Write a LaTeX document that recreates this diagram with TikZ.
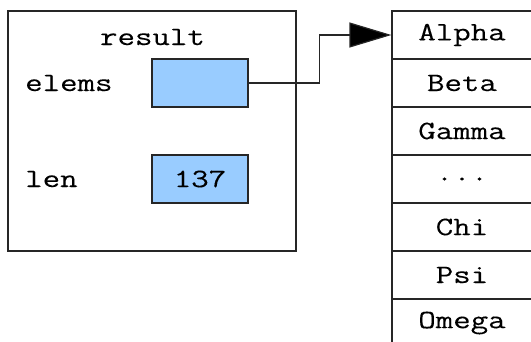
\documentclass[tikz,border=0pt]{standalone}
\usepackage{fontspec}
\setmonofont[FakeStretch=1.28,FakeBold=0.2]{Latin Modern Mono}
\usetikzlibrary{arrows.meta,positioning}
\definecolor{fieldblue}{RGB}{153,204,255}
\begin{document}
\begin{tikzpicture}[x=1pt, y=1pt, node distance=48pt,
    every node/.style={font=\ttfamily\fontsize{26.5}{30}\selectfont},
    boxline/.style={draw=black!85, line width=1.2pt, inner sep=0pt},
    field/.style={boxline, fill=fieldblue, minimum width=96pt, minimum height=48pt},
    cell/.style={boxline, minimum width=140pt, minimum height=48pt},
    fieldname/.style={inner sep=0pt, anchor=west}]
  \useasboundingbox (0,0) rectangle (531,341);
  \node(S) [boxline, minimum width=288pt, minimum height=240pt] at (152,210) {};
  \node(R) at (152.5,304) {result};
  \node(E) [field] at (200,258) {};
  \node(L) [field, below of=E, node distance=96pt] {137};
  \node(EN) [fieldname] at (25,258) {elems};
  \node(LN) [fieldname] at (25,162) {len};
  \node(A1) [cell] at (462,306) {Alpha};
  \node(A2) [cell, below of=A1] {Beta};
  \node(A3) [cell, below of=A2] {Gamma};
  \node(A4) [cell, below of=A3] {...};
  \node(A5) [cell, below of=A4] {Chi};
  \node(A6) [cell, below of=A5] {Psi};
  \node(A7) [cell, below of=A6] {Omega};
  \draw[boxline, -{Triangle[length=42pt,width=25pt,fill=black]}] (E.east) -- ++(71,0) |- (A1.west);
\end{tikzpicture}
\end{document}
